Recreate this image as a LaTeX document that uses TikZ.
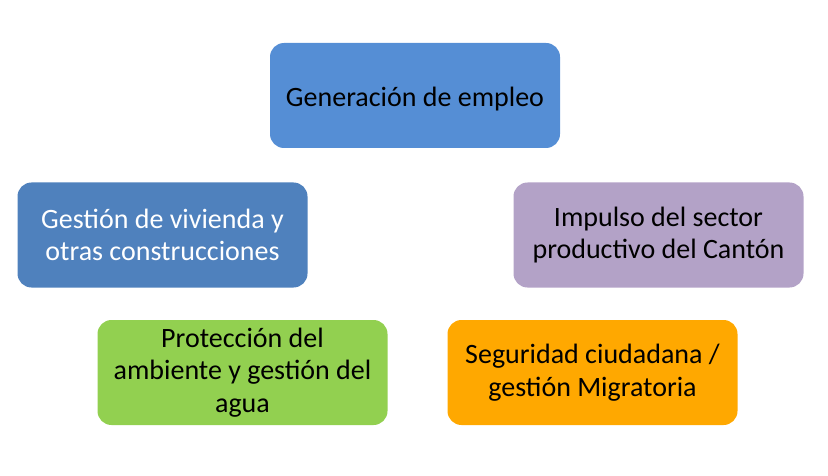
\documentclass[tikz,border=0pt]{standalone}
\usepackage{fontspec}
\setmainfont{Carlito}
\definecolor{cA}{HTML}{558ED5}
\definecolor{cB}{HTML}{4F81BD}
\definecolor{cC}{HTML}{B3A2C7}
\definecolor{cD}{HTML}{92D050}
\definecolor{cE}{HTML}{FFA800}
\begin{document}
\begin{tikzpicture}[x=1pt,y=-1pt,
  box/.style={rounded corners=14pt, minimum width=290pt, minimum height=105pt,
    align=center, font=\fontsize{28}{32.5}\selectfont, text=black, inner sep=0pt,
    execute at begin node={\rule{0pt}{26pt}}}]
\useasboundingbox (0,0) rectangle (828,476);
\node[box, fill=cA] (emp) at (415,95.5) {Generación de empleo};
\node[box, fill=cB, text=white] (viv) at (162.5,235) {Gestión de vivienda y\\otras construcciones};
\node[box, fill=cC] (imp) at (658.5,235) {Impulso del sector\\productivo del Cantón};
\node[box, fill=cD] (pro) at (242.5,372.5) {Protección del\\ambiente y gestión del\\agua};
\node[box, fill=cE] (seg) at (592.5,372.5) {Seguridad ciudadana /\\gestión Migratoria};
\end{tikzpicture}
\end{document}
